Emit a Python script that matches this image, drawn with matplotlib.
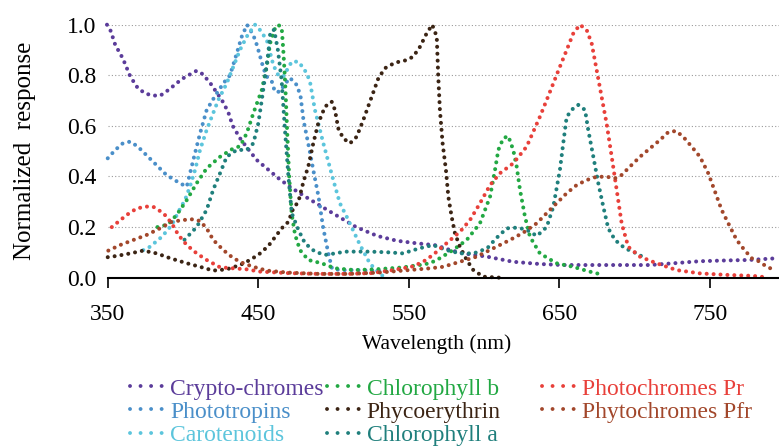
import matplotlib
matplotlib.use("Agg")
import matplotlib.pyplot as plt
from matplotlib.lines import Line2D

plt.rcParams['font.family'] = ['Liberation Serif', 'DejaVu Serif']

# values (wavelength in nm, normalized response)
crypto_x = [349.5, 352, 355, 360, 365, 370, 375, 380, 385, 391, 396, 400, 405, 409, 413, 418, 422, 426,
            430, 433, 438, 443, 449, 456, 464, 472, 484, 498, 515, 529, 542, 555, 568, 577, 586, 602,
            619, 637, 652, 670, 690, 710, 728, 743, 760, 776, 795]
crypto_y = [1.0, 0.975, 0.92, 0.867, 0.795, 0.749, 0.728, 0.72, 0.72, 0.745, 0.77, 0.788, 0.805, 0.818,
            0.805, 0.77, 0.735, 0.70, 0.655, 0.60, 0.55, 0.51, 0.465, 0.43, 0.39, 0.355, 0.31, 0.26, 0.20,
            0.165, 0.146, 0.136, 0.128, 0.11, 0.096, 0.083, 0.063, 0.054, 0.05, 0.05, 0.05, 0.05, 0.058,
            0.065, 0.068, 0.07, 0.077]

photo_x = [350, 355, 360, 365, 370, 379, 389, 398, 402.5, 406.8, 411.3, 415.7, 422.4, 427, 431.2, 435.7,
           439, 442.5, 445.6, 448, 450, 453.3, 455.6, 459, 461, 464.4, 467, 471, 475.5, 478, 480, 484,
           486.5, 490, 493, 496.5, 499, 505, 515, 525, 535]
photo_y = [0.472, 0.505, 0.531, 0.538, 0.518, 0.465, 0.406, 0.373, 0.36, 0.465, 0.57, 0.663, 0.729, 0.77,
           0.80, 0.887, 0.953, 1.0, 0.97, 0.94, 0.90, 0.83, 0.795, 0.775, 0.735, 0.735, 0.76, 0.79, 0.762,
           0.72, 0.623, 0.505, 0.426, 0.32, 0.20, 0.096, 0.035, 0.03, 0.03, 0.028, 0.025]

carot_x = [373.6, 378, 386, 392.5, 397, 401.3, 404.6, 408, 411.3, 415.7, 420, 423.4, 429, 433.4, 437.8,
           442.3, 447.8, 451, 455.6, 460, 463.3, 466.6, 472.2, 476.6, 480, 482.1, 484.3, 487.6, 493.2,
           499.8, 504.2, 508.7, 517.5, 524.2, 530, 534]
carot_y = [0.109, 0.122, 0.162, 0.208, 0.261, 0.307, 0.36, 0.426, 0.505, 0.584, 0.65, 0.702, 0.768, 0.834,
           0.90, 0.953, 1.0, 0.98, 0.94, 0.84, 0.80, 0.795, 0.854, 0.854, 0.828, 0.808, 0.775, 0.663, 0.531,
           0.386, 0.294, 0.241, 0.13, 0.055, 0.02, 0.0]

chlb_x = [383, 390, 396, 402.5, 409, 415.7, 424.6, 433.4, 438, 442.3, 446.7, 452.3, 455.6, 457.8, 461.1,
          463, 465.5, 466.5, 467.3, 468, 469, 470.5, 472.2, 474.4, 477.7, 483.2, 492, 501, 514, 527.5, 545,
          557, 564, 570.6, 579.5, 588.4, 597.2, 603.9, 607.2, 609.4, 612.7, 616, 619.3, 621.6, 623.8,
          627.1, 630.4, 637, 648, 659, 670, 679]
chlb_y = [0.20, 0.21, 0.25, 0.307, 0.373, 0.432, 0.478, 0.511, 0.52, 0.571, 0.65, 0.742, 0.834, 0.926,
          0.986, 1.0, 0.99, 0.907, 0.828, 0.749, 0.60, 0.40, 0.25, 0.17, 0.109, 0.07, 0.057, 0.037, 0.03,
          0.033, 0.04, 0.05, 0.057, 0.077, 0.11, 0.149, 0.215, 0.32, 0.426, 0.505, 0.551, 0.56, 0.505,
          0.439, 0.347, 0.241, 0.162, 0.096, 0.057, 0.043, 0.024, 0.011]

phyco_x = [350, 356, 365, 373.6, 382.5, 391.4, 402.5, 411.3, 420, 429, 437.8, 442.3, 450, 456.6, 465.5,
           470, 473.2, 476.6, 480, 483.2, 486.5, 489.8, 494.3, 498.7, 500.9, 503.1, 506.4, 510.9, 515.3,
           519.7, 525.3, 529.7, 534.1, 540.8, 548.5, 552.9, 557.4, 561.8, 565.5, 568.5, 569.5, 570.6,
           572.4, 574.6, 576.2, 578.4, 580.6, 583.9, 588.4, 592.8, 599.4, 610.5]
phyco_y = [0.081, 0.086, 0.096, 0.107, 0.096, 0.077, 0.057, 0.043, 0.028, 0.033, 0.05, 0.063, 0.09, 0.125,
           0.195, 0.221, 0.274, 0.30, 0.38, 0.44, 0.531, 0.61, 0.676, 0.696, 0.663, 0.59, 0.551, 0.531,
           0.557, 0.623, 0.715, 0.788, 0.828, 0.85, 0.86, 0.874, 0.913, 0.966, 1.0, 0.953, 0.795, 0.663,
           0.531, 0.426, 0.32, 0.241, 0.175, 0.122, 0.07, 0.03, 0.004, 0.0]

chla_x = [401, 409, 415.7, 420, 424.6, 429, 435.7, 442.3, 446.7, 450, 452.3, 454.5, 456.6, 458, 460.5,
          463, 465.5, 467.5, 470, 472.2, 476.6, 481, 487.6, 494.3, 501, 507.6, 515, 524, 537, 546, 557,
          566, 575, 584, 593, 602, 608, 615, 622, 628, 635, 641.5, 645.9, 650.3, 652.5, 654.8, 659.2,
          662.5, 667, 669.1, 672.5, 675.8, 679.1, 682.4, 686.9, 693.5, 701.3, 706.8]
chla_y = [0.15, 0.2, 0.268, 0.347, 0.413, 0.478, 0.505, 0.505, 0.531, 0.61, 0.702, 0.795, 0.887, 0.972,
          0.98, 0.9, 0.78, 0.6, 0.40, 0.255, 0.189, 0.136, 0.103, 0.09, 0.096, 0.103, 0.103, 0.103, 0.10,
          0.096, 0.116, 0.129, 0.109, 0.096, 0.096, 0.116, 0.156, 0.195, 0.198, 0.19, 0.165, 0.2, 0.28,
          0.426, 0.531, 0.636, 0.67, 0.683, 0.663, 0.584, 0.478, 0.373, 0.281, 0.195, 0.149, 0.116, 0.096,
          0.077]

pr_x = [352.7, 357, 362.6, 369.3, 375.9, 380.3, 387, 392.5, 396.9, 402.5, 409.1, 415.7, 424.6, 433.4,
        442.3, 451, 470, 490, 510, 525, 539.6, 553, 560, 566, 575, 584, 590.6, 597.2, 603.9, 610.5, 619.3,
        628.2, 637, 641.5, 645.9, 650.3, 654.8, 659.2, 663.6, 668.1, 671.4, 674.7, 678, 681.3, 684.7, 688,
        691.3, 695.7, 703.5, 714.5, 727.8, 743.3, 761, 778.7, 785]
pr_y = [0.2, 0.221, 0.248, 0.274, 0.281, 0.28, 0.255, 0.215, 0.169, 0.129, 0.096, 0.07, 0.041, 0.037,
        0.033, 0.024, 0.018, 0.015, 0.015, 0.018, 0.03, 0.045, 0.065, 0.09, 0.136, 0.182, 0.228, 0.294,
        0.366, 0.413, 0.452, 0.518, 0.636, 0.702, 0.768, 0.834, 0.90, 0.966, 1.0, 0.979, 0.926, 0.821,
        0.715, 0.61, 0.478, 0.347, 0.215, 0.122, 0.083, 0.057, 0.03, 0.017, 0.011, 0.007, 0.003]

pfr_x = [350.4, 358.2, 367, 375.9, 384.7, 392.5, 400.2, 406.8, 411.3, 415.7, 420.1, 426.8, 433.4, 440,
         446.7, 455.6, 470, 490, 510, 530, 550, 564, 572.8, 583.9, 595, 606, 617.1, 626, 634.9, 641.5,
         648.1, 654.8, 661.4, 668.1, 674.7, 681.3, 686.9, 691.3, 696.8, 703.5, 710.1, 716.7, 722.2, 727.4,
         732.2, 737.8, 743.3, 748.8, 753.3, 757.7, 763.2, 767.7, 772, 777.6, 783.1, 787.6, 793.1]
pfr_y = [0.107, 0.129, 0.149, 0.169, 0.195, 0.221, 0.228, 0.231, 0.224, 0.195, 0.149, 0.109, 0.077, 0.057,
         0.043, 0.028, 0.02, 0.015, 0.015, 0.02, 0.03, 0.037, 0.043, 0.063, 0.083, 0.116, 0.149, 0.178,
         0.215, 0.255, 0.294, 0.334, 0.366, 0.386, 0.399, 0.399, 0.393, 0.406, 0.439, 0.478, 0.511, 0.544,
         0.575, 0.58, 0.557, 0.518, 0.478, 0.413, 0.34, 0.268, 0.202, 0.149, 0.116, 0.077, 0.063, 0.043,
         0.03]

labels = ["Crypto-chromes", "Phototropins", "Carotenoids",
          "Chlorophyll b", "Phycoerythrin", "Chlorophyll a",
          "Photochromes Pr", "Phytochromes Pfr"]
colors = ["#5b3c9a", "#4a8fc9", "#5cc5dc",
          "#22a843", "#3b2414", "#1f7f7c",
          "#e8403a", "#a2472b"]
series = [(crypto_x, crypto_y), (photo_x, photo_y), (carot_x, carot_y),
          (chlb_x, chlb_y), (phyco_x, phyco_y), (chla_x, chla_y),
          (pr_x, pr_y), (pfr_x, pfr_y)]

fig = plt.figure(figsize=(7.79, 4.47), dpi=100)
ax = fig.add_axes([0.1383, 0.3788, 0.8617, 0.5659])

dots = (0, (0.01, 1.71))
for (xs, ys), c in zip(series, colors):
    ax.plot(xs, ys, color=c, lw=2.9, linestyle=dots, dash_capstyle='round', clip_on=False)

ax.set_xlim(350, 795.8)
ax.set_ylim(0, 1.0)
ax.set_xticks([350, 450, 550, 650, 750])
ax.set_yticks([0.0, 0.2, 0.4, 0.6, 0.8, 1.0])
ax.set_yticklabels(["0.0", "0.2", "0.4", "0.6", "0.8", "1.0"])

for g in [0.2, 0.4, 0.6, 0.8, 1.0]:
    ax.axhline(g, color='#9a9a9a', lw=0.8, linestyle=(0, (1, 2)), zorder=0)

for s in ['top', 'right', 'left']:
    ax.spines[s].set_visible(False)
ax.spines['bottom'].set_linewidth(1.5)
ax.tick_params(axis='x', length=7, width=1.2, pad=12, labelsize=17)
ax.tick_params(axis='y', length=0, pad=8, labelsize=17)

ax.set_ylabel("Normalized  response", fontsize=18)
ax.yaxis.set_label_coords(-0.107, 0.5)
ax.set_xlabel("Wavelength (nm)", fontsize=15.5)
ax.xaxis.set_label_coords(0.4905, -0.222)

# legend in three columns placed like the reference
col_x = [130 / 779, 326.7 / 779, 541.7 / 779]
cols = [[0, 1, 2], [3, 4, 5], [6, 7]]
for cx, idx in zip(col_x, cols):
    handles = [Line2D([], [], color=colors[i], lw=2.8, linestyle=(0, (0.01, 2.7)),
                      dash_capstyle='round') for i in idx]
    fig.legend(handles, [labels[i] for i in idx], loc='upper left',
               bbox_to_anchor=(cx, 1 - 378.0 / 447), frameon=False, borderpad=0,
               borderaxespad=0, handlelength=1.4, handletextpad=0.3,
               labelspacing=0.07, fontsize=17, labelcolor='linecolor')

fig.savefig("out.png", dpi=100)
